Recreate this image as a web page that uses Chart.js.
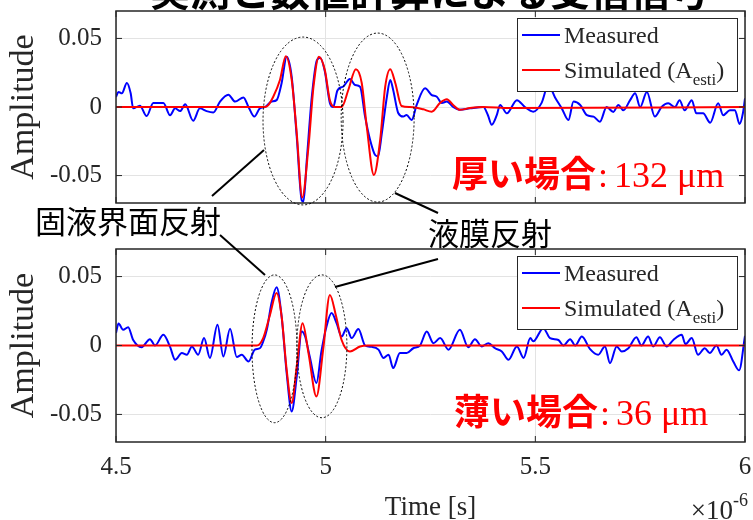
<!DOCTYPE html>
<html>
<head>
<meta charset="utf-8">
<script src="https://cdn.jsdelivr.net/npm/chart.js@4.4.1/dist/chart.umd.min.js"></script>
<style>
  body { margin: 0; background: #fff; }
  #wrap { position: relative; width: 753px; height: 520px; overflow: hidden; }
  canvas { position: absolute; left: 0; }
  #top { top: 0; }
  #bottom { top: 240px; }
  #overlay { top: 0; pointer-events: none; }
</style>
</head>
<body>
<div id="wrap">
  <canvas id="top" width="753" height="240"></canvas>
  <canvas id="bottom" width="753" height="280"></canvas>
  <canvas id="overlay" width="753" height="520"></canvas>
</div>
<script>
// time in microseconds (axis shows x10^-6)
const xTicks = [4.5, 5, 5.5, 6];
const yTicks = [-0.05, 0, 0.05];

// thick film (132 um)
const thickMeasT = [4.500, 4.506, 4.514, 4.526, 4.535, 4.541, 4.557, 4.573, 4.589, 4.613, 4.629, 4.641, 4.653, 4.665, 4.684, 4.700, 4.716, 4.732, 4.748, 4.768, 4.784, 4.804, 4.816, 4.830, 4.843, 4.855, 4.871, 4.883, 4.895, 4.907, 4.919, 4.931, 4.943, 4.947, 4.955, 4.967, 4.979, 4.987, 4.998, 5.010, 5.018, 5.028, 5.042, 5.058, 5.070, 5.082, 5.094, 5.106, 5.118, 5.125, 5.134, 5.146, 5.154, 5.161, 5.173, 5.185, 5.193, 5.205, 5.217, 5.237, 5.253, 5.265, 5.277, 5.289, 5.304, 5.320, 5.344, 5.376, 5.387, 5.396, 5.408, 5.416, 5.432, 5.456, 5.475, 5.495, 5.515, 5.531, 5.547, 5.563, 5.579, 5.591, 5.607, 5.623, 5.639, 5.654, 5.670, 5.686, 5.698, 5.710, 5.726, 5.738, 5.750, 5.766, 5.785, 5.801, 5.817, 5.833, 5.844, 5.856, 5.873, 5.884, 5.900, 5.917, 5.936, 5.948, 5.964, 5.976, 5.987, 5.995, 6.000];
const thickMeasA = [0.0073, 0.011, 0.010, 0.0175, 0.010, -0.001, 0.001, -0.0066, 0.003, 0.003, -0.006, -0.001, -0.003, 0.002, -0.010, -0.001, -0.003, -0.004, 0.004, 0.009, 0.004, 0.007, 0.000, -0.007, -0.001, 0.000, 0.004, 0.005, 0.0175, 0.0367, 0.022, -0.0216, -0.068, -0.069, -0.0386, 0.0075, 0.034, 0.036, 0.026, 0.003, 0.000, 0.012, 0.015, 0.0204, 0.016, 0.0148, -0.007, -0.024, -0.035, -0.036, -0.019, 0.0075, 0.0197, 0.0124, -0.0044, -0.007, -0.0058, -0.0095, 0.0015, 0.0136, 0.0087, 0.0075, 0.003, 0.004, 0.000, -0.002, -0.001, 0.000, -0.006, -0.013, -0.006, 0.0015, -0.0046, 0.005, 0.000, -0.0034, 0.003, 0.016, 0.007, -0.001, -0.0095, 0.004, 0.0015, -0.006, -0.007, -0.0107, 0.000, -0.0036, 0.0015, -0.0024, 0.005, 0.010, 0.000, 0.011, -0.007, 0.000, 0.0027, 0.000, 0.005, -0.0024, 0.005, -0.0046, -0.0046, -0.0114, 0.0027, -0.006, -0.0024, -0.0024, -0.0124, -0.0046, 0.0063];
const thickSimT = [4.500, 4.855, 4.862, 4.875, 4.891, 4.905, 4.919, 4.931, 4.944, 4.959, 4.971, 4.984, 4.998, 5.010, 5.022, 5.038, 5.054, 5.072, 5.086, 5.098, 5.115, 5.130, 5.142, 5.154, 5.166, 5.181, 5.201, 5.217, 5.233, 5.253, 5.273, 5.289, 5.304, 5.320, 5.344, 5.376, 5.440, 6.000];
const thickSimA = [0, 0, 0.001, 0.0075, 0.0197, 0.037, 0.0197, -0.019, -0.066, -0.029, 0.0148, 0.0367, 0.027, 0.005, 0.000, 0.000, 0.0124, 0.0275, 0.0175, -0.0143, -0.0496, -0.024, 0.0148, 0.0275, 0.0175, 0.0007, 0.000, -0.0005, -0.0017, -0.0034, 0.003, 0.0056, 0.0015, -0.002, -0.0008, 0, -0.0008, 0];

// thin film (36 um)
const thinMeasT = [4.500, 4.506, 4.517, 4.529, 4.541, 4.561, 4.581, 4.593, 4.613, 4.629, 4.641, 4.657, 4.669, 4.681, 4.696, 4.710, 4.724, 4.742, 4.756, 4.772, 4.788, 4.800, 4.816, 4.831, 4.843, 4.850, 4.860, 4.871, 4.883, 4.895, 4.907, 4.919, 4.931, 4.943, 4.951, 4.962, 4.978, 4.990, 5.002, 5.014, 5.026, 5.038, 5.050, 5.062, 5.078, 5.094, 5.110, 5.126, 5.138, 5.150, 5.161, 5.177, 5.193, 5.209, 5.225, 5.241, 5.257, 5.273, 5.293, 5.320, 5.340, 5.356, 5.372, 5.388, 5.404, 5.420, 5.436, 5.456, 5.472, 5.488, 5.495, 5.519, 5.535, 5.555, 5.567, 5.583, 5.595, 5.611, 5.630, 5.650, 5.666, 5.678, 5.694, 5.706, 5.722, 5.741, 5.753, 5.769, 5.781, 5.797, 5.813, 5.829, 5.849, 5.858, 5.873, 5.888, 5.904, 5.916, 5.932, 5.944, 5.956, 5.972, 5.986, 6.000];
const thinMeasA = [0.009, 0.016, 0.0114, 0.0133, 0.004, -0.0012, 0.0046, 0.000, 0.0078, -0.001, -0.0104, -0.0055, -0.0067, -0.0007, -0.0067, 0.0054, -0.0091, 0.015, -0.008, 0.0121, -0.0084, -0.0067, -0.0116, -0.003, -0.002, 0.002, 0.012, 0.031, 0.0423, 0.021, -0.020, -0.0478, -0.0225, 0.0101, 0.0065, -0.008, -0.0272, -0.004, 0.0138, 0.0235, 0.0162, 0.0065, 0.0126, 0.0054, 0.0119, 0.000, -0.001, -0.003, -0.009, -0.0067, -0.0164, -0.0055, -0.0055, -0.002, 0.000, 0.0101, 0.0017, 0.0054, -0.003, 0.0114, -0.0012, 0.0046, -0.0007, 0.0017, -0.002, -0.0043, -0.0104, -0.0007, -0.009, 0.0054, 0.003, 0.0126, 0.0054, 0.004, 0.000, 0.0046, 0.000, 0.0065, -0.0024, -0.0067, -0.0007, -0.0128, -0.0007, -0.0043, -0.002, 0.006, 0.000, 0.0065, -0.0007, 0.006, -0.0007, 0.004, 0.0078, 0.001, 0.0054, -0.0067, -0.002, -0.0055, 0.000, -0.0067, -0.003, -0.0116, -0.018, 0.007];
const thinSimT = [4.500, 4.836, 4.851, 4.867, 4.883, 4.895, 4.907, 4.919, 4.931, 4.945, 4.959, 4.978, 4.994, 5.010, 5.025, 5.038, 5.058, 5.082, 5.100, 6.000];
const thinSimA = [0, 0, 0.0054, 0.022, 0.038, 0.021, -0.0176, -0.0417, -0.0152, 0.0162, -0.0055, -0.037, -0.003, 0.0367, 0.021, 0.004, -0.0043, -0.0007, 0, 0];

const seriesLabels = ['Measured', 'Simulated (A_{esti})'];
const seriesColors = ['#0000ff', '#ff0000'];

const SERIF = '"Liberation Serif", "Times New Roman", serif';
const CJK = '"Noto Sans CJK JP", "Noto Sans CJK SC", sans-serif';
const INK = '#262626';
const GRID = '#e3e3e3';

const pts = (ts, as) => ts.map((t, i) => ({ x: t, y: as[i] }));

function makeDatasets(measT, measA, simT, simA) {
  return [
    { label: seriesLabels[0], data: pts(measT, measA), borderColor: seriesColors[0], borderWidth: 2, pointRadius: 0, cubicInterpolationMode: 'monotone', order: 1 },
    { label: seriesLabels[1], data: pts(simT, simA), borderColor: seriesColors[1], borderWidth: 2, pointRadius: 0, cubicInterpolationMode: 'monotone', order: 0 }
  ];
}

// box, inward ticks
const framePlugin = {
  id: 'frame',
  afterDraw(chart) {
    const { ctx, chartArea: a, scales } = chart;
    ctx.save();
    ctx.strokeStyle = INK;
    ctx.lineWidth = 1.5;
    ctx.strokeRect(a.left, a.top, a.right - a.left, a.bottom - a.top);
    ctx.lineWidth = 1;
    ctx.beginPath();
    xTicks.forEach(v => {
      const px = scales.x.getPixelForValue(v);
      ctx.moveTo(px, a.bottom); ctx.lineTo(px, a.bottom - 6);
      ctx.moveTo(px, a.top); ctx.lineTo(px, a.top + 6);
    });
    yTicks.forEach(v => {
      const py = scales.y.getPixelForValue(v);
      ctx.moveTo(a.left, py); ctx.lineTo(a.left + 6, py);
      ctx.moveTo(a.right, py); ctx.lineTo(a.right - 6, py);
    });
    ctx.stroke();
    ctx.restore();
  }
};

// legend with subscript
const legendPlugin = {
  id: 'subLegend',
  afterDatasetsDraw(chart) {
    const { ctx, chartArea: a } = chart;
    const w = 220, h = 73;
    const bx = a.right - 8 - w, by = a.top + 7;
    ctx.save();
    ctx.fillStyle = '#fff';
    ctx.fillRect(bx, by, w, h);
    ctx.strokeStyle = INK;
    ctx.lineWidth = 1;
    ctx.strokeRect(bx + 0.5, by + 0.5, w, h);
    chart.data.datasets.forEach((ds, i) => {
      const ly = by + 17 + i * 35;
      ctx.strokeStyle = ds.borderColor;
      ctx.lineWidth = 2;
      ctx.beginPath();
      ctx.moveTo(bx + 5, ly); ctx.lineTo(bx + 43, ly);
      ctx.stroke();
      ctx.fillStyle = INK;
      ctx.textBaseline = 'alphabetic';
      let x = bx + 47;
      const parts = ds.label.split(/_\{(.*?)\}/);
      parts.forEach((p, k) => {
        if (!p) return;
        const sub = k % 2 === 1;
        ctx.font = (sub ? '17px ' : '24px ') + SERIF;
        ctx.fillText(p, x, ly + (sub ? 15 : 8));
        x += ctx.measureText(p).width;
      });
    });
    ctx.restore();
  }
};

function yAxis() {
  return {
    min: -0.07, max: 0.07,
    afterBuildTicks: s => { s.ticks = yTicks.map(v => ({ value: v })); },
    afterFit: s => { s.width = 116; s.paddingTop = 0; s.paddingBottom = 0; },
    grid: { color: GRID, drawTicks: false },
    border: { display: false },
    ticks: { padding: 14, color: INK, font: { family: SERIF, size: 25 }, callback: v => String(v) },
    title: { display: true, text: 'Amplitude', color: INK, font: { family: SERIF, size: 34, lineHeight: 1 }, padding: { top: 7, bottom: 0 } }
  };
}

const common = {
  responsive: false,
  animation: false,
  devicePixelRatio: 1,
  events: [],
  plugins: { legend: { display: false }, tooltip: { enabled: false } }
};

const chartTop = new Chart(document.getElementById('top'), {
  type: 'line',
  data: { datasets: makeDatasets(thickMeasT, thickMeasA, thickSimT, thickSimA) },
  options: {
    ...common,
    layout: { padding: { top: 11, right: 8, left: 0, bottom: 0 } },
    scales: {
      x: {
        type: 'linear', min: 4.5, max: 6,
        afterBuildTicks: s => { s.ticks = xTicks.map(v => ({ value: v })); },
        afterFit: s => { s.height = 37; s.paddingLeft = 0; s.paddingRight = 0; },
        grid: { color: GRID, drawTicks: false },
        border: { display: false },
        ticks: { display: false }
      },
      y: yAxis()
    }
  },
  plugins: [framePlugin, legendPlugin]
});

const chartBottom = new Chart(document.getElementById('bottom'), {
  type: 'line',
  data: { datasets: makeDatasets(thinMeasT, thinMeasA, thinSimT, thinSimA) },
  options: {
    ...common,
    layout: { padding: { top: 9, right: 8, left: 0, bottom: 0 } },
    scales: {
      x: {
        type: 'linear', min: 4.5, max: 6,
        afterBuildTicks: s => { s.ticks = xTicks.map(v => ({ value: v })); },
        afterFit: s => { s.height = 78; s.paddingLeft = 0; s.paddingRight = 0; },
        grid: { color: GRID, drawTicks: false },
        border: { display: false },
        ticks: { padding: 10, color: INK, maxRotation: 0, font: { family: SERIF, size: 25 }, callback: v => String(v) },
        title: { display: true, text: 'Time [s]', color: INK, font: { family: SERIF, size: 27, lineHeight: 0.9 }, padding: { top: 0, bottom: 0 } }
      },
      y: yAxis()
    }
  },
  plugins: [framePlugin, legendPlugin]
});

// overlay: title, callouts, ellipses, thickness labels, exponent
(function drawOverlay() {
  const ctx = document.getElementById('overlay').getContext('2d');
  const offB = 240;

  ctx.fillStyle = '#000';
  ctx.textAlign = 'center';
  ctx.font = 'bold 40px ' + CJK;
  ctx.fillText('実測と数値計算による受信信号', 430, 6);

  // dashed ellipses in data coordinates
  function ellipse(chart, yOff, t, amp, rt, ra) {
    const sx = chart.scales.x, sy = chart.scales.y;
    const cx = sx.getPixelForValue(t), cy = sy.getPixelForValue(amp) + yOff;
    const rx = Math.abs(sx.getPixelForValue(t + rt) - sx.getPixelForValue(t));
    const ry = Math.abs(sy.getPixelForValue(amp + ra) - sy.getPixelForValue(amp));
    ctx.beginPath();
    ctx.ellipse(cx, cy, rx, ry, 0, 0, Math.PI * 2);
    ctx.stroke();
  }
  ctx.save();
  ctx.strokeStyle = '#000';
  ctx.lineWidth = 1;
  ctx.setLineDash([2, 2]);
  ellipse(chartTop, 0, 4.946, -0.0102, 0.0954, 0.0612);
  ellipse(chartTop, 0, 5.124, -0.0077, 0.087, 0.0616);
  ellipse(chartBottom, offB, 4.878, -0.0024, 0.0537, 0.0536);
  ellipse(chartBottom, offB, 4.991, -0.0006, 0.0596, 0.0518);
  ctx.restore();

  // leader lines
  ctx.strokeStyle = '#000';
  ctx.lineWidth = 2;
  [[212, 196, 264, 150], [220, 235, 265, 275], [395, 193, 438, 213], [335, 287, 438, 259]].forEach(l => {
    ctx.beginPath(); ctx.moveTo(l[0], l[1]); ctx.lineTo(l[2], l[3]); ctx.stroke();
  });

  ctx.textAlign = 'left';
  ctx.fillStyle = '#000';
  ctx.font = '31px ' + CJK;
  ctx.fillText('固液界面反射', 35, 233);
  ctx.fillText('液膜反射', 428, 245);

  function thickness(jp, num, x, base) {
    ctx.fillStyle = '#ff0000';
    ctx.font = 'bold 36px ' + CJK;
    ctx.fillText(jp, x, base);
    x += ctx.measureText(jp).width + 2;
    ctx.font = '36px ' + SERIF;
    ctx.fillText(':', x, base);
    x += ctx.measureText(':').width + 6;
    ctx.fillText(num, x, base);
  }
  thickness('厚い場合', '132 μm', 452, 187);
  thickness('薄い場合', '36 μm', 454, 425);

  ctx.fillStyle = INK;
  ctx.textAlign = 'right';
  ctx.font = '18px ' + SERIF;
  ctx.fillText('-6', 748, 506);
  const expW = ctx.measureText('-6').width;
  ctx.font = '27px ' + SERIF;
  ctx.fillText('×10', 748 - expW, 519);
})();
</script>
</body>
</html>
